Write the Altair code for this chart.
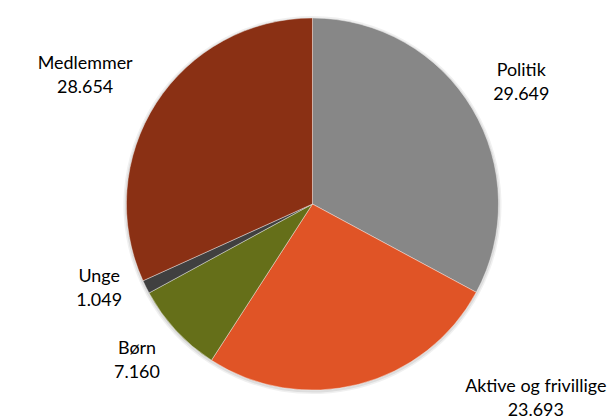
import altair as alt
import pandas as pd

categories = ["Politik", "Aktive og frivillige", "Børn", "Unge", "Medlemmer"]
values = [29649, 23693, 7160, 1049, 28654]
value_labels = ["29.649", "23.693", "7.160", "1.049", "28.654"]
colors = ["#878787", "#E05426", "#656F19", "#404040", "#8A3014"]

df = pd.DataFrame({
    "cat": categories,
    "value": values,
    "vlabel": value_labels,
    "idx": list(range(len(categories))),
})

CX, CY, R = 306, 196, 187
LABEL_R = 235
LH = 24
# per-label nudges (style) from the radial anchor
nudges = {
    "Politik": (8, -1),
    "Aktive og frivillige": (166, -32),
    "Børn": (-4, -2),
    "Unge": (-4, -19),
    "Medlemmer": (-31, -1),
}

base = alt.Chart(df)

shadow = base.mark_arc(color="#000000", opacity=0.06).encode(
    theta=alt.Theta("value:Q", stack=True),
    order=alt.Order("idx:Q"),
    x=alt.value(CX), y=alt.value(CY + 1),
    radius=alt.value(R + 3),
)
shadow2 = base.mark_arc(color="#000000", opacity=0.08).encode(
    theta=alt.Theta("value:Q", stack=True),
    order=alt.Order("idx:Q"),
    x=alt.value(CX), y=alt.value(CY + 1),
    radius=alt.value(R + 1.5),
)

pie = base.mark_arc(stroke="#ffffff", strokeWidth=0.4).encode(
    theta=alt.Theta("value:Q", stack=True),
    order=alt.Order("idx:Q"),
    color=alt.Color("cat:N", scale=alt.Scale(domain=categories, range=colors), legend=None),
    x=alt.value(CX), y=alt.value(CY),
    radius=alt.value(R),
)

label_layers = []
for cat in categories:
    dx, dy = nudges[cat]
    lay = base.transform_window(
        cum="sum(value)", sort=[alt.SortField("idx")]
    ).transform_calculate(
        mid="datum.cum - datum.value / 2",
        txt="[datum.cat, datum.vlabel]",
    ).transform_filter(
        alt.datum.cat == cat
    ).mark_text(
        font="Lato", fontSize=18, color="#000000", align="center",
        baseline="middle", lineHeight=LH, dx=dx, dy=dy - LH / 2,
    ).encode(
        theta=alt.Theta("mid:Q", stack=False),
        text="txt:N",
        x=alt.value(CX), y=alt.value(CY),
        radius=alt.value(LABEL_R),
    )
    label_layers.append(lay)

chart = alt.layer(shadow, shadow2, pie, *label_layers).properties(
    width=599, height=403, padding=0, background="#ffffff"
).configure_view(stroke=None)

chart.save("out.html", embed_options={"renderer": "svg", "actions": False})
